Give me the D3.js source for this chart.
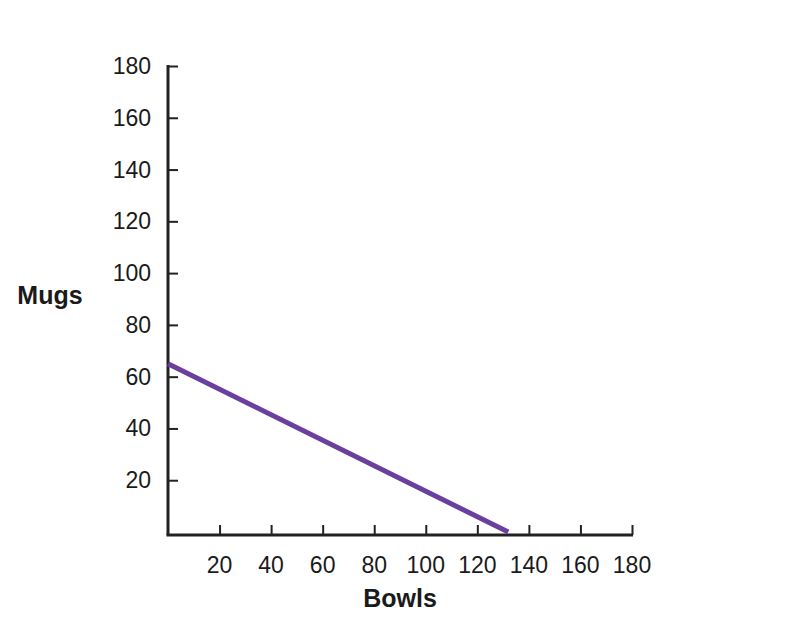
<!DOCTYPE html>
<html>
<head>
<meta charset="utf-8">
<script src="https://cdn.jsdelivr.net/npm/d3@7"></script>
<style>
  body { margin: 0; background: #fff; }
  text { font-family: "Liberation Sans", Arial, sans-serif; fill: #1a1a1a; }
</style>
</head>
<body>
<div id="chart"></div>
<script>
// budget line: mugs vs bowls
var bowls = [0, 132];
var mugs = [65, 0];
var xTicks = [20, 40, 60, 80, 100, 120, 140, 160, 180];
var yTicks = [20, 40, 60, 80, 100, 120, 140, 160, 180];

var width = 800, height = 622;

var svg = d3.select("#chart")
    .append("svg")
    .attr("width", width)
    .attr("height", height);

var x = d3.scaleLinear().domain([0, 180]).range([168, 632]);
var y = d3.scaleLinear().domain([0, 180]).range([532, 66]);
var axisY = 535;

// y axis
var yAxis = svg.append("g")
    .attr("transform", `translate(${x(0)},0)`)
    .call(d3.axisRight(y).tickValues(yTicks).tickSize(10).tickFormat(""));
yAxis.select(".domain").remove();
yAxis.selectAll(".tick line").attr("stroke", "#222").attr("stroke-width", 2);

svg.append("line")
    .attr("x1", x(0)).attr("x2", x(0))
    .attr("y1", y(180) - 1).attr("y2", axisY)
    .attr("stroke", "#222").attr("stroke-width", 3);

svg.selectAll(".ylab")
    .data(yTicks)
    .enter().append("text")
    .attr("class", "ylab")
    .attr("x", 151)
    .attr("y", d => y(d) + 8)
    .attr("text-anchor", "end")
    .style("font-size", "23px")
    .text(d => d);

// x axis
var xAxis = svg.append("g")
    .attr("transform", `translate(0,${axisY})`)
    .call(d3.axisTop(x).tickValues(xTicks).tickSize(10).tickFormat(""));
xAxis.select(".domain").remove();
xAxis.selectAll(".tick line").attr("stroke", "#222").attr("stroke-width", 2);

svg.append("line")
    .attr("x1", x(0) - 1.5).attr("x2", x(180) + 1)
    .attr("y1", axisY).attr("y2", axisY)
    .attr("stroke", "#222").attr("stroke-width", 3);

svg.selectAll(".xlab")
    .data(xTicks)
    .enter().append("text")
    .attr("class", "xlab")
    .attr("x", d => x(d))
    .attr("y", 573)
    .attr("text-anchor", "middle")
    .style("font-size", "23px")
    .text(d => d);

// the line
var pts = bowls.map((b, i) => [b, mugs[i]]);
svg.append("path")
    .datum(pts)
    .attr("fill", "none")
    .attr("stroke", "#6a3f9e")
    .attr("stroke-width", 5)
    .attr("d", d3.line().x(d => x(d[0])).y(d => y(d[1])));

// axis titles
svg.append("text")
    .attr("x", 400).attr("y", 607)
    .attr("text-anchor", "middle")
    .style("font-size", "25px").style("font-weight", "bold")
    .text("Bowls");

svg.append("text")
    .attr("x", 50).attr("y", 304)
    .attr("text-anchor", "middle")
    .style("font-size", "25px").style("font-weight", "bold")
    .text("Mugs");
</script>
</body>
</html>
